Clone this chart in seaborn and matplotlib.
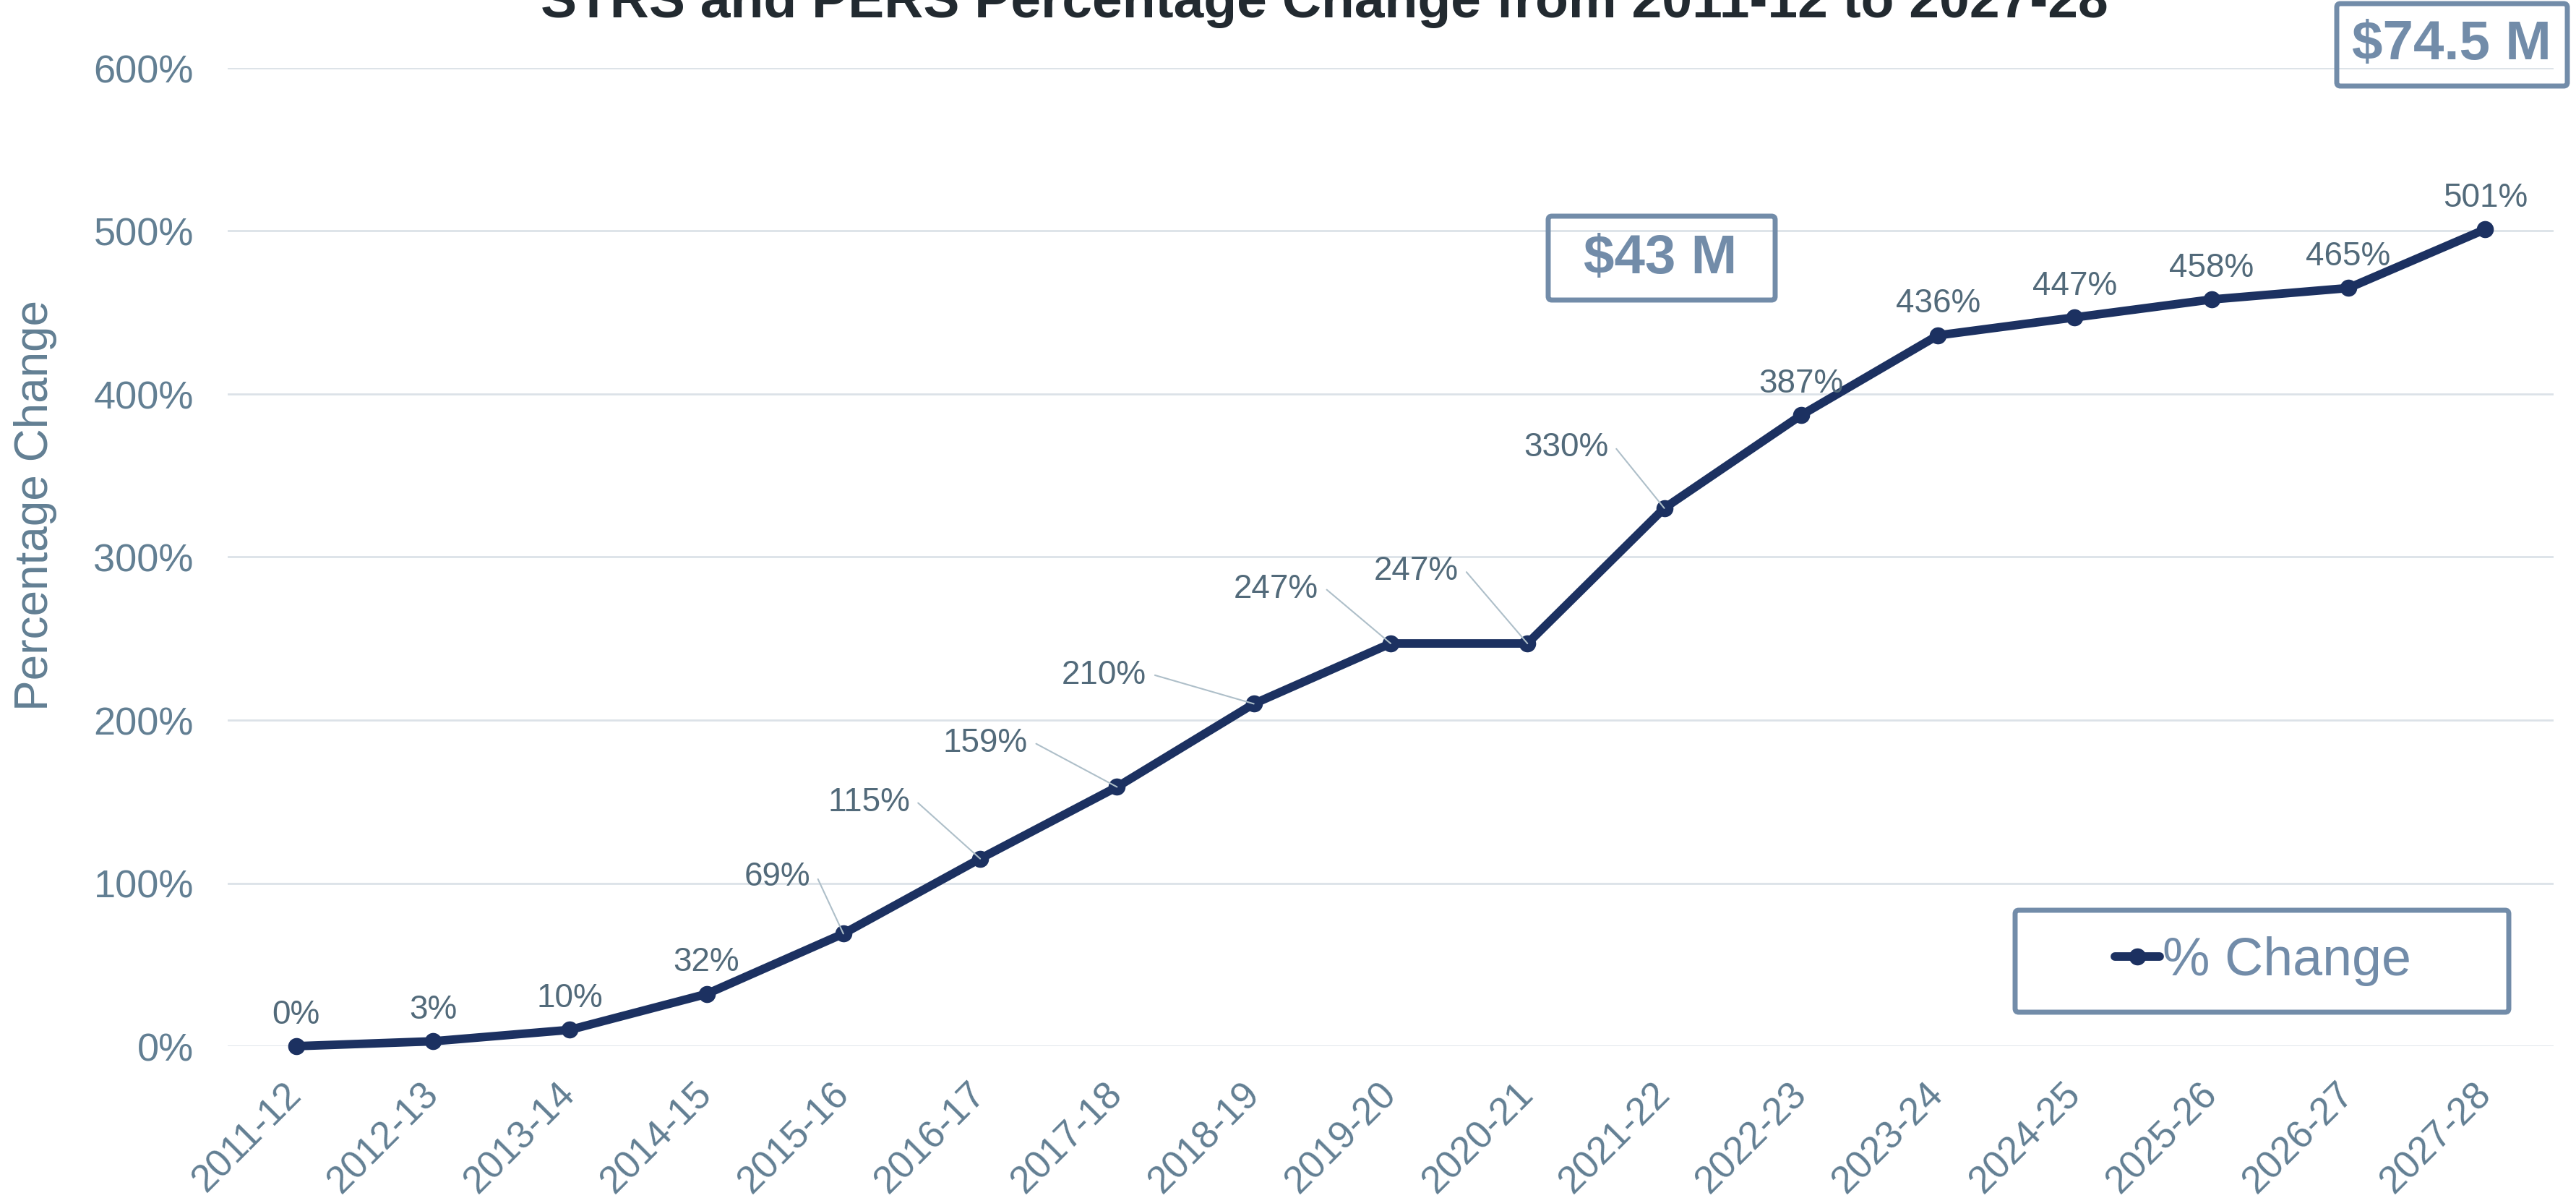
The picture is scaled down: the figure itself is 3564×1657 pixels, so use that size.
import numpy as np
import pandas as pd
import matplotlib
matplotlib.use("Agg")
import matplotlib.pyplot as plt
import seaborn as sns
from matplotlib.patches import FancyBboxPatch
from matplotlib.transforms import IdentityTransform

# data
years = ['2011-12', '2012-13', '2013-14', '2014-15', '2015-16', '2016-17',
         '2017-18', '2018-19', '2019-20', '2020-21', '2021-22', '2022-23',
         '2023-24', '2024-25', '2025-26', '2026-27', '2027-28']
pct_change = [0, 3, 10, 32, 69, 115, 159, 210, 247, 247, 330, 387,
              436, 447, 458, 465, 501]
yticks = [0, 100, 200, 300, 400, 500, 600]
callouts = ['$43 M', '$74.5 M']

df = pd.DataFrame({'year': years, 'pct': pct_change})

# colours
NAVY = '#1c3161'
AXIS_TXT = '#627f93'
LABEL_TXT = '#526a7a'
BOX = '#728ca9'
GRID = '#dce2e8'
LEADER = '#aebfc9'

W, H = 3564, 1658
sns.set_theme(style="white")
plt.rcParams['font.family'] = ['Liberation Sans', 'DejaVu Sans']

fig = plt.figure(figsize=(W / 100, H / 100), dpi=100)
ax = fig.add_axes([315 / W, 1 - 1448 / H, (3533 - 315) / W, (1448 - 95) / H])

sns.lineplot(data=df, x='year', y='pct', marker='o', markersize=17,
             markeredgewidth=0, linewidth=8.5, color=NAVY, label='% Change',
             ax=ax, clip_on=False, zorder=3)

ax.set_xlim(-0.5, len(years) - 0.5)
ax.set_ylim(0, 600)
ax.set_yticks(yticks)
ax.set_yticklabels([f'{v}%' for v in yticks])
ax.yaxis.grid(True, color=GRID, linewidth=2)
ax.set_axisbelow(True)
sns.despine(ax=ax, left=True, bottom=True)
ax.tick_params(axis='y', length=0, pad=34, labelsize=39, labelcolor=AXIS_TXT)
ax.tick_params(axis='x', length=0, pad=42, labelsize=38, labelcolor=AXIS_TXT)
for t in ax.get_xticklabels():
    t.set_rotation(45)
    t.set_ha('right')
    t.set_va('center')
    t.set_rotation_mode('anchor')

ax.set_xlabel('')
ax.set_ylabel('Percentage Change', fontsize=46, color=AXIS_TXT, va='center')
ax.yaxis.set_label_coords((49 - 315) / (3533 - 315), (1448 - 699) / (1448 - 95))

# label offsets in points; the middle years use leader lines
offsets = {4: (-66, 57), 5: (-111, 57), 6: (-131, 44), 7: (-149, 29),
           8: (-114, 55), 9: (-111, 73), 10: (-98, 61)}
for i, v in enumerate(pct_change):
    if i in offsets:
        ax.annotate(f'{v}%', xy=(i, v), xytext=offsets[i],
                    textcoords='offset points', ha='center', va='center',
                    fontsize=33, color=LABEL_TXT, zorder=5,
                    arrowprops=dict(arrowstyle='-', color=LEADER, lw=1.5,
                                    relpos=(1, 0.5), shrinkA=6, shrinkB=0,
                                    connectionstyle='arc,angleA=0,armA=9,angleB=0,armB=0,rad=0'))
    else:
        ax.annotate(f'{v}%', xy=(i, v), xytext=(0, 32),
                    textcoords='offset points', ha='center', va='center',
                    fontsize=33, color=LABEL_TXT)

# legend with its own frame
leg = ax.legend(loc='center', bbox_to_anchor=(3131 / W, 1 - 1330 / H),
                bbox_transform=fig.transFigure, frameon=False, fontsize=53,
                handlelength=0.85, handletextpad=0.05, labelcolor=BOX)


def pixel_box(x0, y0, x1, y1):
    fig.add_artist(FancyBboxPatch((x0, H - y1), x1 - x0, y1 - y0,
                                  boxstyle='round,pad=0,rounding_size=5',
                                  transform=IdentityTransform(),
                                  facecolor='none', edgecolor=BOX, lw=5))


pixel_box(2788, 1260, 3471, 1401)

# dollar callouts
pixel_box(2142, 300, 2456, 416)
fig.text(2297 / W, 1 - 359 / H, callouts[0], ha='center', va='center',
         fontsize=55, fontweight='bold', color=BOX)
pixel_box(3233, 6, 3552, 120)
fig.text(3392 / W, 1 - 63 / H, callouts[1], ha='center', va='center',
         fontsize=55, fontweight='bold', color=BOX)

# title sits partly above the top edge, as in the source image
fig.text(1832 / W, 1 - 24 / H,
         'STRS and PERS Percentage Change from 2011-12 to 2027-28',
         ha='center', va='baseline', fontsize=54, fontweight='bold',
         color='#222a30')

fig.savefig('out.png', dpi=100)
